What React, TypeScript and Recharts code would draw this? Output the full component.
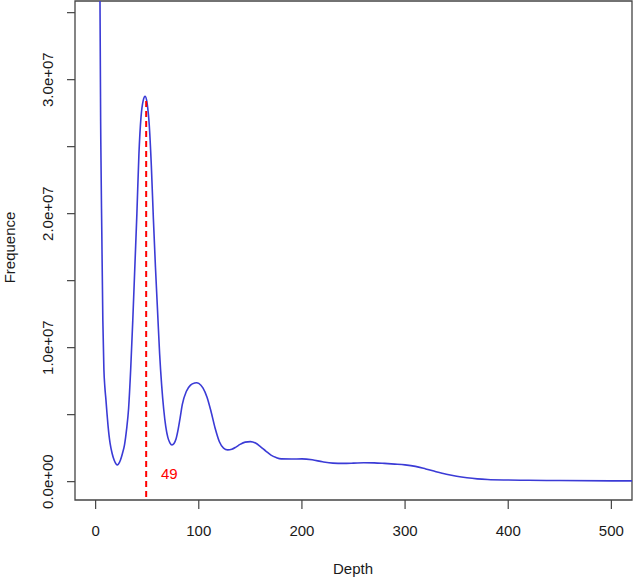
import React from "react";
import {
  LineChart,
  Line,
  XAxis,
  YAxis,
  ReferenceLine,
  ReferenceArea,
  ReferenceDot,
} from "recharts";

const depths = [
  1, 2, 3, 4, 5, 6, 7, 8, 9, 10, 11, 12, 13, 14, 16, 18, 20, 21, 22, 24, 26,
  28, 30, 32, 34, 36, 38, 40, 42, 44, 46, 48, 50, 52, 54, 56, 58, 60, 62, 64,
  66, 68, 70, 72, 74, 76, 78, 80, 82, 84, 88, 92, 96, 98, 100, 104, 108, 112,
  116, 120, 124, 128, 132, 136, 140, 145, 150, 155, 160, 165, 170, 175, 180,
  190, 200, 210, 220, 230, 240, 250, 260, 270, 280, 290, 300, 310, 320, 330,
  340, 350, 360, 370, 380, 400, 420, 450, 500, 520,
];

const frequence = [
  3.0e8, 1.5e8, 7.0e7, 3.9e7, 2.55e7, 1.85e7, 1.2e7, 8.4e6, 7.0e6, 6.1e6,
  5.1e6, 4.2e6, 3.45e6, 2.87e6, 2.1e6, 1.6e6, 1.3e6, 1.25e6, 1.3e6, 1.6e6,
  2.1e6, 2.75e6, 3.9e6, 5.5e6, 8.4e6, 1.2e7, 1.6e7, 2.0e7, 2.45e7, 2.72e7,
  2.84e7, 2.875e7, 2.82e7, 2.66e7, 2.36e7, 1.96e7, 1.6e7, 1.28e7, 9.6e6,
  7.2e6, 5.4e6, 4.1e6, 3.3e6, 2.9e6, 2.74e6, 2.85e6, 3.2e6, 3.9e6, 4.8e6,
  5.75e6, 6.75e6, 7.2e6, 7.36e6, 7.38e6, 7.33e6, 7.0e6, 6.3e6, 5.2e6, 3.95e6,
  2.98e6, 2.5e6, 2.37e6, 2.42e6, 2.58e6, 2.78e6, 2.95e6, 2.99e6, 2.88e6,
  2.6e6, 2.28e6, 1.98e6, 1.8e6, 1.7e6, 1.69e6, 1.7e6, 1.63e6, 1.48e6, 1.38e6,
  1.36e6, 1.38e6, 1.41e6, 1.4e6, 1.36e6, 1.31e6, 1.25e6, 1.14e6, 9.5e5,
  7.4e5, 5.5e5, 4.0e5, 2.9e5, 2.1e5, 1.6e5, 1.2e5, 1.0e5, 8.0e4, 6.0e4, 5.5e4,
];

const xTicks = [0, 100, 200, 300, 400, 500];
const yTicks = [0, 5e6, 1e7, 1.5e7, 2e7, 2.5e7, 3e7, 3.5e7];
const yLabels: Record<number, string> = {
  0: "0.0e+00",
  10000000: "1.0e+07",
  20000000: "2.0e+07",
  30000000: "3.0e+07",
};

const modeDepth = 49;
const modePeak = 2.86e7;
const modeLineBottom = -1.14e6;
const labelPos = { x: 71.5, y: 6.1e5 };

const data = depths.map((d, i) => ({ depth: d, value: frequence[i] }));

const FONT = "'Liberation Sans', Arial, Helvetica, sans-serif";
const X_DOMAIN: [number, number] = [-20, 520];
const Y_DOMAIN: [number, number] = [-1.37e6, 3.587e7];

const XTick = (props: any) => {
  const { x, payload } = props;
  return (
    <text
      x={x}
      y={536}
      textAnchor="middle"
      fontFamily={FONT}
      fontSize={15}
      fill="#1a1a1a"
    >
      {payload.value}
    </text>
  );
};

const YTick = (props: any) => {
  const { y, payload } = props;
  const lbl = yLabels[payload.value];
  if (!lbl) return <g />;
  return (
    <text
      transform={`translate(52.5, ${y}) rotate(-90)`}
      textAnchor="middle"
      fontFamily={FONT}
      fontSize={15}
      fill="#1a1a1a"
    >
      {lbl}
    </text>
  );
};

export default function App() {
  return (
    <div style={{ position: "absolute", left: 0, top: 0 }}>
      <LineChart
        width={633}
        height={578}
        data={data}
        margin={{ top: 1, right: 1, bottom: 0, left: 0 }}
      >
        <XAxis
          dataKey="depth"
          type="number"
          domain={X_DOMAIN}
          allowDataOverflow
          ticks={xTicks}
          tickSize={9}
          tickMargin={0}
          tickLine={{ stroke: "#444", strokeWidth: 1.2 }}
          axisLine={false}
          tick={<XTick />}
          interval={0}
          height={78}
          label={{
            content: () => (
              <text
                x={353}
                y={573.5}
                textAnchor="middle"
                fontFamily={FONT}
                fontSize={15}
                fill="#1a1a1a"
              >
                Depth
              </text>
            ),
          }}
        />
        <YAxis
          type="number"
          domain={Y_DOMAIN}
          allowDataOverflow
          ticks={yTicks}
          tickSize={8}
          tickMargin={0}
          tickLine={{ stroke: "#444", strokeWidth: 1.2 }}
          axisLine={false}
          tick={<YTick />}
          interval={0}
          width={75}
          label={{
            content: () => (
              <text
                transform="translate(14.5, 247.5) rotate(-90)"
                textAnchor="middle"
                fontFamily={FONT}
                fontSize={15}
                fill="#1a1a1a"
              >
                Frequence
              </text>
            ),
          }}
        />
        <ReferenceArea
          x1={X_DOMAIN[0]}
          x2={X_DOMAIN[1]}
          y1={Y_DOMAIN[0]}
          y2={Y_DOMAIN[1]}
          fill="none"
          fillOpacity={0}
          stroke="#444"
          strokeWidth={1.3}
          ifOverflow="visible"
        />
        <Line
          type="monotone"
          dataKey="value"
          stroke="#3b3bd6"
          strokeWidth={1.6}
          dot={false}
          isAnimationActive={false}
        />
        <ReferenceLine
          segment={[
            { x: modeDepth, y: modeLineBottom },
            { x: modeDepth, y: modePeak },
          ]}
          stroke="#ff0000"
          strokeWidth={2}
          strokeDasharray="6 4"
          ifOverflow="visible"
        />
        <ReferenceDot
          x={labelPos.x}
          y={labelPos.y}
          r={0}
          fill="none"
          stroke="none"
          ifOverflow="visible"
          label={{
            content: (p: any) => {
              const vb = p.viewBox || {};
              const cx = (vb.x ?? 0) + (vb.width ?? 0) / 2;
              const cy = (vb.y ?? 0) + (vb.height ?? 0) / 2;
              return (
                <text
                  x={cx}
                  y={cy + 5.5}
                  textAnchor="middle"
                  fontFamily={FONT}
                  fontSize={15}
                  fill="#ff0000"
                >
                  49
                </text>
              );
            },
          }}
        />
      </LineChart>
    </div>
  );
}
